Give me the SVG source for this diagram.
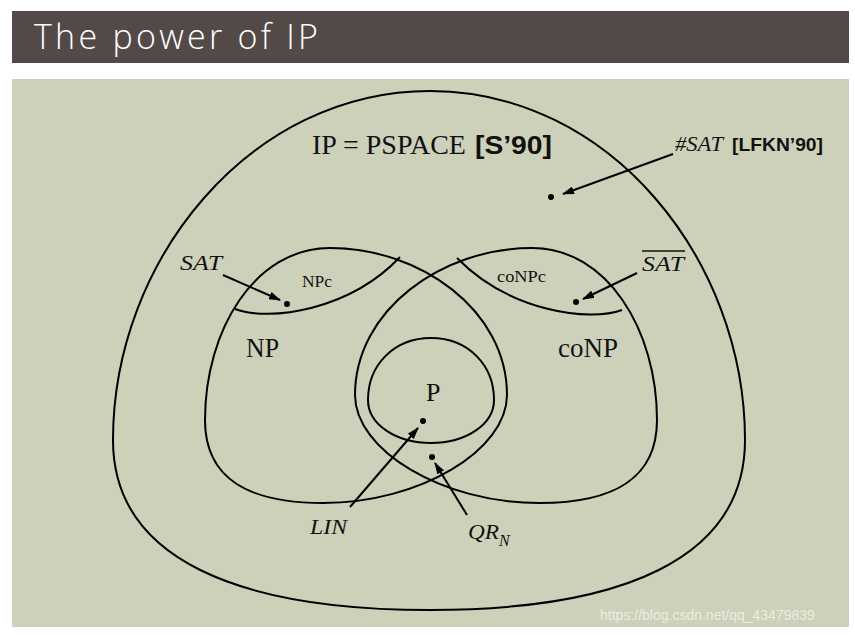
<svg xmlns="http://www.w3.org/2000/svg" width="855" height="635" viewBox="0 0 855 635">
  <defs>
    <marker id="arr" viewBox="0 0 12 8" refX="11" refY="4" markerWidth="12" markerHeight="8" markerUnits="userSpaceOnUse" orient="auto">
      <path d="M0,0 L12,4 L0,8 Z" fill="#000"/>
    </marker>
    <style>
      .shape { fill: none; stroke: #000; stroke-width: 2; }
      .conn { fill: none; stroke: #000; stroke-width: 2; marker-end: url(#arr); }
      .dot { fill: #000; }
      .serif { font-family: "Liberation Serif", "DejaVu Serif", serif; fill: #111; }
      .ital { font-family: "Liberation Serif", "DejaVu Serif", serif; font-style: italic; fill: #111; }
      .bold { font-family: "Liberation Sans", Arial, sans-serif; font-weight: bold; fill: #111; }
    </style>
  </defs>
  <rect x="0" y="0" width="855" height="635" fill="#ffffff"/>
  <rect x="12" y="11" width="837" height="52" fill="#534a48"/>
  <text x="34" y="49" font-family="'Open Sans', 'DejaVu Sans', sans-serif" font-weight="300" font-size="34" textLength="284" lengthAdjust="spacing" fill="#ffffff">The power of IP</text>
  <rect x="12" y="79" width="837" height="548" fill="#cdd1b9"/>

  <g id="IP">
    <path class="shape" d="M430 91 C610 91 745 260 745 440 C745 560 620 610 430 610 C240 610 113 560 113 440 C113 260 250 91 430 91 Z"/>
    <text class="serif" x="312" y="154" font-size="27" textLength="154" lengthAdjust="spacingAndGlyphs">IP = PSPACE</text>
    <text class="bold" x="475" y="154" font-size="25" textLength="77" lengthAdjust="spacingAndGlyphs">[S’90]</text>
    <circle class="dot" cx="551" cy="197" r="3"/>
  </g>
  <g id="sharpSAT">
    <text class="ital" x="675" y="151" font-size="21" textLength="48" lengthAdjust="spacingAndGlyphs">#SAT</text>
    <text class="bold" x="732" y="151" font-size="18" textLength="91" lengthAdjust="spacingAndGlyphs">[LFKN’90]</text>
  </g>
  <g id="NP">
    <path class="shape" d="M330 248 C420 248 507 310 507 395 C507 450 420 503 323 503 C250 503 205 480 205 420 C205 330 255 248 330 248 Z"/>
    <text class="serif" x="246" y="357" font-size="27" textLength="33" lengthAdjust="spacingAndGlyphs">NP</text>
  </g>
  <g id="NPc">
    <path class="shape" d="M235 309 C270 322 350 310 400 257"/>
    <text class="serif" x="302" y="287" font-size="17" textLength="30" lengthAdjust="spacingAndGlyphs">NPc</text>
    <circle class="dot" cx="287" cy="304" r="3"/>
  </g>
  <g id="SAT">
    <text class="ital" x="180" y="270" font-size="22" textLength="42" lengthAdjust="spacingAndGlyphs">SAT</text>
  </g>
  <g id="coNP">
    <path class="shape" d="M532 248 C442 248 355 310 355 395 C355 450 442 503 539 503 C612 503 657 480 657 420 C657 330 607 248 532 248 Z"/>
    <text class="serif" x="558" y="357" font-size="27" textLength="60" lengthAdjust="spacingAndGlyphs">coNP</text>
  </g>
  <g id="coNPc">
    <path class="shape" d="M457 258 C510 312 590 322 622 310"/>
    <text class="serif" x="497" y="282" font-size="17" textLength="49" lengthAdjust="spacingAndGlyphs">coNPc</text>
    <circle class="dot" cx="576" cy="302" r="3"/>
  </g>
  <g id="SATbar">
    <text class="ital" x="642" y="271" font-size="22" textLength="42" lengthAdjust="spacingAndGlyphs">SAT</text>
    <line x1="642" y1="251" x2="685" y2="251" stroke="#111" stroke-width="1.5"/>
  </g>
  <g id="P">
    <path class="shape" d="M431 338 C468 338 494 365 494 400 C494 425 465 443 431 443 C397 443 368 425 368 400 C368 365 394 338 431 338 Z"/>
    <text class="serif" x="426" y="401" font-size="26">P</text>
    <circle class="dot" cx="423" cy="421" r="3"/>
  </g>
  <g id="QRNdot">
    <circle class="dot" cx="432" cy="457" r="3"/>
  </g>
  <g id="LIN">
    <text class="ital" x="310" y="534" font-size="22" textLength="37" lengthAdjust="spacingAndGlyphs">LIN</text>
  </g>
  <g id="QRN">
    <text class="ital" x="468" y="539" font-size="22" textLength="31" lengthAdjust="spacingAndGlyphs">QR</text>
    <text class="ital" x="499" y="546" font-size="16">N</text>
  </g>

  <g id="connectors">
    <line class="conn" x1="673" y1="154" x2="563" y2="194"/>
    <line class="conn" x1="223" y1="275" x2="280" y2="300"/>
    <line class="conn" x1="637" y1="273" x2="583" y2="299"/>
    <line class="conn" x1="350" y1="507" x2="418" y2="428"/>
    <line class="conn" x1="467" y1="515" x2="435" y2="463"/>
  </g>

  <text x="600" y="620" font-family="'Liberation Sans', Arial, sans-serif" font-size="14" fill="#ffffff" fill-opacity="0.6">https://blog.csdn.net/qq_43479839</text>
</svg>
